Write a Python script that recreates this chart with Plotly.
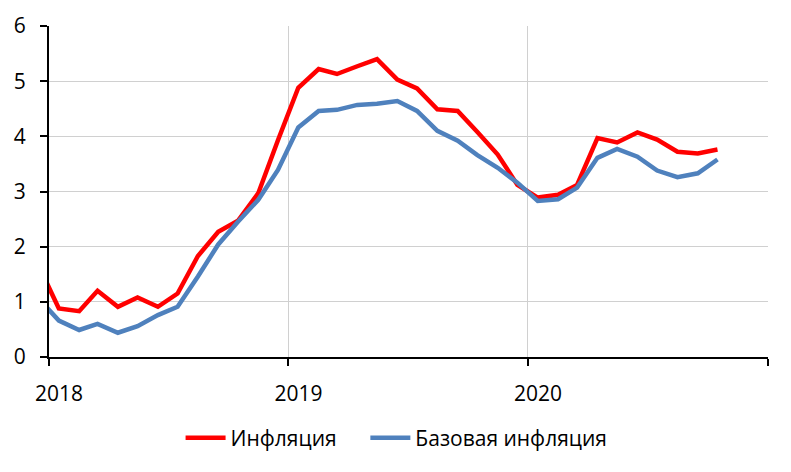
import pandas as pd
import plotly.graph_objects as go

# monthly points, plotted mid-month; Dec 2017 sits just outside the axis range
months = pd.date_range("2017-12-01", periods=35, freq="MS") + pd.Timedelta(days=15)

inflation = [1.66,
             0.88, 0.83, 1.20, 0.91, 1.08, 0.91, 1.15, 1.83, 2.27, 2.47, 2.97, 3.93,
             4.88, 5.22, 5.13, 5.27, 5.40, 5.03, 4.87, 4.49, 4.46, 4.08, 3.67, 3.12,
             2.89, 2.94, 3.12, 3.97, 3.89, 4.07, 3.94, 3.72, 3.69, 3.76]
core_inflation = [1.06,
                  0.66, 0.49, 0.60, 0.44, 0.56, 0.76, 0.91, 1.46, 2.04, 2.45, 2.85, 3.39,
                  4.16, 4.46, 4.48, 4.57, 4.59, 4.64, 4.46, 4.10, 3.92, 3.66, 3.43, 3.16,
                  2.83, 2.86, 3.07, 3.61, 3.77, 3.63, 3.38, 3.26, 3.33, 3.58]

year_ticks = ["2018-01-01", "2019-01-01", "2020-01-01", "2021-01-01"]
year_labels = ["2018", "2019", "2020", ""]

fig = go.Figure([
    go.Scatter(x=months, y=inflation, mode="lines", name="Инфляция",
               line=dict(color="#FF0000", width=4.5), legend="legend", showlegend=True),
    go.Scatter(x=months, y=core_inflation, mode="lines", name="Базовая инфляция",
               line=dict(color="#4F81BD", width=4.5), legend="legend2", showlegend=True),
])

# page body adds 8px, so margins are 8px smaller on the left/top
fig.update_layout(
    width=791, height=472,
    margin=dict(l=41, r=31, t=18, b=123),
    plot_bgcolor="white", paper_bgcolor="white",
    showlegend=True,
    font=dict(family="Open Sans", size=21, color="black"),
    legend=dict(orientation="h", x=0.183, xanchor="left", y=-0.245, yanchor="middle",
                itemwidth=40, font=dict(size=21), visible=True),
    legend2=dict(orientation="h", x=0.44, xanchor="left", y=-0.245, yanchor="middle",
                 itemwidth=40, font=dict(size=21), visible=True),
)
fig.update_xaxes(
    type="date", range=["2018-01-01", "2021-01-01"], automargin=False,
    tickvals=year_ticks, ticktext=year_labels,
    ticks="outside", ticklen=7, tickwidth=2, tickcolor="black",
    showline=True, linecolor="black", linewidth=2,
    showgrid=True, gridcolor="#D0D0D0", gridwidth=1,
    ticklabelshift=10, ticklabelstandoff=10,
)
fig.update_yaxes(
    range=[0, 6], dtick=1, automargin=False,
    ticks="outside", ticklen=7, tickwidth=2, tickcolor="black",
    showline=True, linecolor="black", linewidth=2,
    showgrid=True, gridcolor="#D0D0D0", gridwidth=1, zeroline=False,
    ticklabelstandoff=10,
)

fig.write_html("out.html")
